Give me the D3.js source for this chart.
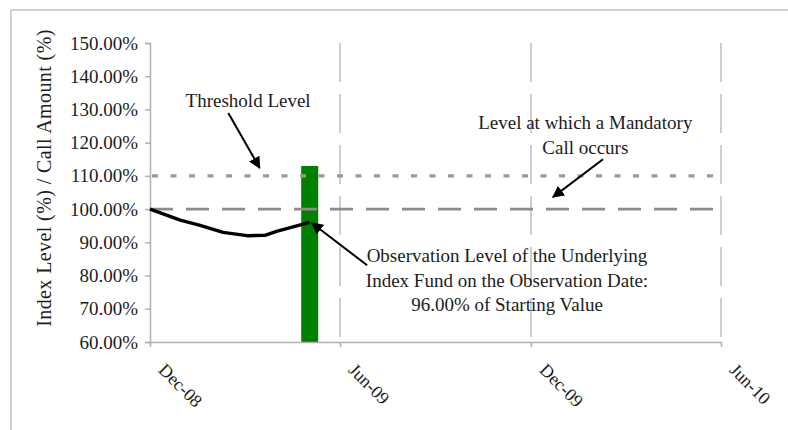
<!DOCTYPE html>
<html>
<head>
<meta charset="utf-8">
<script src="https://cdn.jsdelivr.net/npm/d3@7"></script>
<style>
  html, body { margin: 0; padding: 0; background: #fff; }
  svg { display: block; }
  text { font-family: "Liberation Serif", "Times New Roman", serif; fill: #1c1c1c; }
</style>
</head>
<body>
<svg id="chart" width="788" height="430"></svg>
<script>
// ---- data ----
const parse = d3.timeParse("%Y-%m-%d");

// Underlying index level path (% of starting value)
const indexDates  = ["2008-12-01", "2008-12-30", "2009-01-18", "2009-02-09", "2009-03-04", "2009-03-21", "2009-04-02", "2009-05-03"];
const indexLevels = [100.0, 96.7, 95.1, 93.0, 92.0, 92.1, 93.4, 96.0];

// Call amount bar on the observation date
const callDates   = ["2009-05-03"];
const callAmounts = [113.0];

// Reference levels
const thresholdLevel = 110;
const mandatoryCallLevel = 100;

// Axis ticks
const yTicks = [60, 70, 80, 90, 100, 110, 120, 130, 140, 150];
const xTickDates  = ["2008-12-01", "2009-06-01", "2009-12-01", "2010-06-01"];
const xTickLabels = ["Dec-08", "Jun-09", "Dec-09", "Jun-10"];
const xDomain = ["2008-12-01", "2010-06-01"];
const yDomain = [60, 150];

// Annotations: label lines anchored in data space, arrows from tail to head
const annoLabels = [
  { date: "2009-03-05", value: 130.7, lines: ["Threshold Level"] },
  { date: "2010-01-22", value: 124.1, lines: ["Level at which a Mandatory", "Call occurs"] },
  { date: "2009-11-08", value: 84.0,  lines: ["Observation Level of the Underlying", "Index Fund on the Observation Date:", "96.00% of Starting Value"] }
];
const annoArrows = [
  { from: ["2009-02-14", 128.9], to: ["2009-03-16", 112.4] },
  { from: ["2010-02-08", 115.0], to: ["2009-12-22", 103.6] },
  { from: ["2009-06-27", 83.1],  to: ["2009-05-05", 95.8] }
];

// ---- layout ----
const svg = d3.select("#chart");
const W = 788, H = 430;
const plot = { left: 150, top: 43, right: 721, bottom: 342 };

const x = d3.scaleTime()
  .domain(xDomain.map(parse))
  .range([plot.left, plot.right]);
const y = d3.scaleLinear()
  .domain(yDomain)
  .range([plot.bottom, plot.top]);

// outer frame (top and left edges)
svg.append("path")
  .attr("d", `M11,${H} L11,10 L${W},10`)
  .attr("fill", "none")
  .attr("stroke", "#c4c4c4")
  .attr("stroke-width", 1.5);

// vertical dashed gridlines
svg.append("g")
  .selectAll("line")
  .data(xTickDates.slice(1).map(parse))
  .join("line")
  .attr("x1", d => x(d)).attr("x2", d => x(d))
  .attr("y1", plot.top).attr("y2", plot.bottom)
  .attr("stroke", "#c2c2c2")
  .attr("stroke-width", 1.6)
  .attr("stroke-dasharray", "39 12");

// call amount bar
const barW = 17;
svg.append("g")
  .selectAll("rect")
  .data(callDates.map((d, i) => ({ date: parse(d), v: callAmounts[i] })))
  .join("rect")
  .attr("x", d => x(d.date) - barW / 2)
  .attr("width", barW)
  .attr("y", d => y(d.v))
  .attr("height", d => y(yDomain[0]) - y(d.v))
  .attr("fill", "#008000");

// reference lines
svg.append("line")
  .attr("x1", x.range()[0] + 2).attr("x2", x.range()[1])
  .attr("y1", y(thresholdLevel)).attr("y2", y(thresholdLevel))
  .attr("stroke", "#9a9a9a")
  .attr("stroke-width", 3.2)
  .attr("stroke-dasharray", "6 12.5");

svg.append("line")
  .attr("x1", x.range()[0]).attr("x2", x.range()[1])
  .attr("y1", y(mandatoryCallLevel)).attr("y2", y(mandatoryCallLevel))
  .attr("stroke", "#8c8c8c")
  .attr("stroke-width", 2.6)
  .attr("stroke-dasharray", "23 13");

// axes
const yAxis = d3.axisLeft(y)
  .tickValues(yTicks)
  .tickSize(5)
  .tickPadding(7)
  .tickFormat(d => d3.format(".2f")(d) + "%");
const gy = svg.append("g")
  .attr("transform", `translate(${plot.left},0)`)
  .call(yAxis);
gy.select(".domain").attr("stroke", "#b0b0b0").attr("stroke-width", 1.5);
gy.selectAll(".tick line").attr("stroke", "#b0b0b0").attr("stroke-width", 1.5);
gy.selectAll(".tick text")
  .attr("font-size", 19)
  .attr("fill", "#1c1c1c")
  .style("font-family", "'Liberation Serif', serif");

const xAxis = d3.axisBottom(x)
  .tickValues(xTickDates.map(parse))
  .tickSize(5)
  .tickSizeOuter(0)
  .tickFormat((d, i) => xTickLabels[i]);
const gx = svg.append("g")
  .attr("transform", `translate(0,${plot.bottom})`)
  .call(xAxis);
gx.select(".domain").attr("stroke", "#b0b0b0").attr("stroke-width", 1.5);
gx.selectAll(".tick line").attr("stroke", "#b0b0b0").attr("stroke-width", 1.5);
gx.selectAll(".tick text")
  .attr("font-size", 18)
  .attr("fill", "#1c1c1c")
  .style("font-family", "'Liberation Serif', serif")
  .attr("text-anchor", "start")
  .attr("y", 0).attr("dy", 0)
  .attr("transform", "translate(7,29) rotate(45)");

// index level line
svg.append("path")
  .datum(indexDates.map((d, i) => ({ date: parse(d), v: indexLevels[i] })))
  .attr("fill", "none")
  .attr("stroke", "#000")
  .attr("stroke-width", 3.4)
  .attr("stroke-linejoin", "round")
  .attr("d", d3.line().x(d => x(d.date)).y(d => y(d.v)));

// y axis title
svg.append("text")
  .attr("transform", `translate(51,${(28 + 328) / 2}) rotate(-90)`)
  .attr("text-anchor", "middle")
  .attr("font-size", 20)
  .attr("letter-spacing", 0.4)
  .text("Index Level (%) / Call Amount (%)");

// annotation arrows
svg.append("defs").append("marker")
  .attr("id", "arrowhead")
  .attr("viewBox", "0 0 10 10")
  .attr("refX", 9).attr("refY", 5)
  .attr("markerWidth", 6).attr("markerHeight", 6)
  .attr("markerUnits", "strokeWidth")
  .attr("orient", "auto")
  .append("path")
  .attr("d", "M0,0 L10,5 L0,10 Z")
  .attr("fill", "#000");

svg.append("g")
  .selectAll("line")
  .data(annoArrows)
  .join("line")
  .attr("x1", d => x(parse(d.from[0]))).attr("y1", d => y(d.from[1]))
  .attr("x2", d => x(parse(d.to[0]))).attr("y2", d => y(d.to[1]))
  .attr("stroke", "#000")
  .attr("stroke-width", 2)
  .attr("marker-end", "url(#arrowhead)");

// annotation labels
const lineGap = 24.5;
svg.append("g")
  .selectAll("text")
  .data(annoLabels)
  .join("text")
  .attr("text-anchor", "middle")
  .attr("font-size", 19)
  .each(function (d) {
    const t = d3.select(this);
    d.lines.forEach((ln, i) => {
      t.append("tspan")
        .attr("x", x(parse(d.date)))
        .attr("y", y(d.value) + i * lineGap)
        .text(ln);
    });
  });
</script>
</body>
</html>
